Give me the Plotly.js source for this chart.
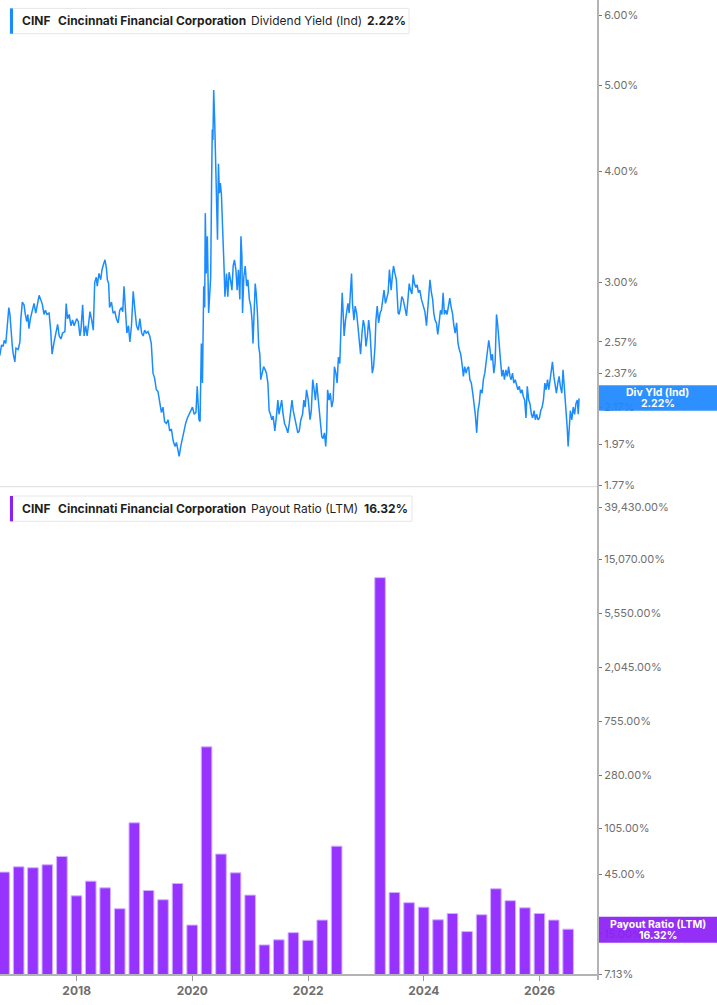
<!DOCTYPE html>
<html>
<head>
<meta charset="utf-8">
<script src="https://cdn.plot.ly/plotly-3.0.1.min.js"></script>
<style>
html,body{margin:0;padding:0;background:#fff;}
#chart{width:717px;height:1005px;}
</style>
</head>
<body>
<div id="chart"></div>
<script>
// ---------------- DATA ----------------
const yieldDates = [
'2016-09-03','2016-09-14','2016-09-24','2016-10-01','2016-10-11','2016-10-19','2016-10-30','2016-11-06','2016-11-12','2016-11-21','2016-11-27','2016-12-07','2016-12-14','2016-12-28',
'2017-01-08','2017-01-14','2017-01-23','2017-02-03','2017-02-11','2017-02-20','2017-02-27','2017-03-06','2017-03-15','2017-03-25','2017-04-07','2017-04-18','2017-04-28','2017-05-09','2017-05-19','2017-05-30','2017-06-09','2017-06-18','2017-06-28','2017-07-11','2017-07-21','2017-07-30','2017-08-10','2017-08-20','2017-09-03','2017-09-13','2017-09-24','2017-10-04','2017-10-19','2017-10-27','2017-11-04','2017-11-15','2017-11-26','2017-12-06','2017-12-16',
'2018-01-01','2018-01-11','2018-01-22','2018-01-28','2018-02-08','2018-02-17','2018-02-27','2018-03-08','2018-03-18','2018-03-26','2018-04-06','2018-04-16','2018-04-25','2018-05-05','2018-05-11','2018-05-22','2018-06-02','2018-06-10','2018-06-21','2018-06-29','2018-07-08','2018-07-14','2018-07-22','2018-07-28','2018-08-09','2018-08-19','2018-08-30','2018-09-09','2018-09-20','2018-09-30','2018-10-11','2018-10-19','2018-10-27','2018-11-06','2018-11-14','2018-11-24','2018-12-03','2018-12-13','2018-12-24',
'2019-01-04','2019-01-14','2019-01-25','2019-02-04','2019-02-15','2019-02-25','2019-03-06','2019-03-16','2019-03-27','2019-04-07','2019-04-17','2019-04-28','2019-05-08','2019-05-19','2019-05-29','2019-06-09','2019-06-20','2019-06-30','2019-07-10','2019-07-21','2019-08-01','2019-08-11','2019-08-22','2019-09-02','2019-09-13','2019-09-23','2019-10-03','2019-10-10','2019-10-20','2019-10-30','2019-11-10','2019-11-20','2019-12-01','2019-12-11','2019-12-22',
'2020-01-02','2020-01-13','2020-01-24','2020-02-01','2020-02-12','2020-02-19','2020-02-27','2020-03-05','2020-03-13','2020-03-19','2020-03-23','2020-03-29','2020-04-05','2020-04-13','2020-04-20','2020-04-26','2020-05-02','2020-05-06','2020-05-10','2020-05-15','2020-05-21','2020-05-27','2020-06-02','2020-06-08','2020-06-14','2020-06-20','2020-06-26','2020-07-03','2020-07-09','2020-07-13','2020-07-19','2020-07-25','2020-08-04','2020-08-12','2020-08-20','2020-08-29','2020-09-07','2020-09-15','2020-09-23','2020-10-02','2020-10-10','2020-10-18','2020-10-27','2020-11-03','2020-11-09','2020-11-13','2020-11-21','2020-11-30','2020-12-09','2020-12-17','2020-12-26',
'2021-01-04','2021-01-12','2021-01-18','2021-01-25','2021-02-01','2021-02-07','2021-02-15','2021-02-23','2021-03-02','2021-03-08','2021-03-16','2021-03-26','2021-04-05','2021-04-13','2021-04-22','2021-04-30','2021-05-08','2021-05-17','2021-05-25','2021-06-05','2021-06-16','2021-06-24','2021-07-01','2021-07-10','2021-07-18','2021-07-27','2021-08-05','2021-08-15','2021-08-26','2021-09-04','2021-09-12','2021-09-21','2021-09-29','2021-10-10','2021-10-20','2021-10-28','2021-11-06','2021-11-16','2021-11-27','2021-12-05','2021-12-13','2021-12-22',
'2022-01-02','2022-01-13','2022-01-21','2022-01-30','2022-02-08','2022-02-16','2022-02-24','2022-03-03','2022-03-11','2022-03-20','2022-03-28','2022-04-05','2022-04-14','2022-04-22','2022-04-28','2022-05-04','2022-05-13','2022-05-21','2022-05-30','2022-06-08','2022-06-16','2022-06-25','2022-07-03','2022-07-11','2022-07-20','2022-07-28','2022-08-04','2022-08-10','2022-08-16','2022-08-25','2022-09-01','2022-09-09','2022-09-17','2022-09-26','2022-10-02','2022-10-08','2022-10-17','2022-10-25','2022-11-03','2022-11-11','2022-11-20','2022-11-28','2022-12-07','2022-12-15','2022-12-23',
'2023-01-01','2023-01-10','2023-01-18','2023-01-27','2023-02-04','2023-02-10','2023-02-18','2023-02-27','2023-03-05','2023-03-13','2023-03-22','2023-03-31','2023-04-08','2023-04-17','2023-04-25','2023-05-04','2023-05-12','2023-05-21','2023-05-29','2023-06-09','2023-06-18','2023-06-24','2023-07-01','2023-07-12','2023-07-23','2023-07-29','2023-08-07','2023-08-15','2023-08-24','2023-09-04','2023-09-14','2023-09-23','2023-10-01','2023-10-09','2023-10-18','2023-10-26','2023-11-03','2023-11-12','2023-11-20','2023-11-28','2023-12-07','2023-12-17','2023-12-28',
'2024-01-08','2024-01-18','2024-01-30','2024-02-09','2024-02-18','2024-02-26','2024-03-04','2024-03-12','2024-03-21','2024-03-29','2024-04-07','2024-04-15','2024-04-24','2024-05-02','2024-05-10','2024-05-19','2024-05-27','2024-06-05','2024-06-13','2024-06-22','2024-06-30','2024-07-09','2024-07-17','2024-07-26','2024-08-04','2024-08-12','2024-08-21','2024-08-29','2024-09-07','2024-09-15','2024-09-24','2024-10-02','2024-10-10','2024-10-18','2024-10-27','2024-11-05','2024-11-13','2024-11-21','2024-11-30','2024-12-08','2024-12-16','2024-12-24',
'2025-01-03','2025-01-11','2025-01-20','2025-01-28','2025-02-06','2025-02-14','2025-02-22','2025-03-01','2025-03-09','2025-03-18','2025-03-26','2025-04-04','2025-04-12','2025-04-21','2025-04-29','2025-05-08','2025-05-16','2025-05-24','2025-06-02','2025-06-11','2025-06-19','2025-06-28','2025-07-05','2025-07-14','2025-07-22','2025-07-31','2025-08-09','2025-08-17','2025-08-26','2025-09-03','2025-09-12','2025-09-20','2025-09-29','2025-10-07','2025-10-15','2025-10-24','2025-11-01','2025-11-10','2025-11-18','2025-11-27','2025-12-05','2025-12-13','2025-12-22','2025-12-31',
'2026-01-08','2026-01-17','2026-01-25','2026-02-03','2026-02-11','2026-02-20','2026-02-28','2026-03-06','2026-03-14','2026-03-23','2026-04-01','2026-04-09','2026-04-17','2026-04-26','2026-05-04','2026-05-12','2026-05-21','2026-05-29','2026-06-07','2026-06-15','2026-06-24','2026-06-30','2026-07-06','2026-07-14','2026-07-23','2026-08-01','2026-08-10','2026-08-18','2026-08-27','2026-09-02','2026-09-07'
];
const yieldValues = [
2.48,2.55,2.54,2.58,2.56,2.67,2.81,2.76,2.65,2.54,2.49,2.44,2.53,2.52,
2.57,2.73,2.85,2.83,2.76,2.71,2.76,2.66,2.73,2.79,2.84,2.77,2.84,2.90,2.87,2.83,2.76,2.79,2.76,2.77,2.65,2.49,2.56,2.61,2.69,2.61,2.59,2.63,2.64,2.84,2.73,2.76,2.68,2.72,2.68,
2.73,2.71,2.61,2.65,2.83,2.61,2.68,2.61,2.70,2.78,2.72,2.65,3.00,3.04,2.97,3.07,3.02,3.10,3.15,3.18,3.11,3.02,2.99,2.81,2.85,2.77,2.78,2.73,2.70,2.79,2.81,2.78,2.97,2.76,2.63,2.68,2.57,2.68,2.93,
2.79,2.68,2.65,2.73,2.63,2.61,2.65,2.63,2.64,2.61,2.56,2.37,2.34,2.27,2.26,2.19,2.14,2.17,2.09,2.08,2.10,2.04,2.05,1.99,1.96,1.98,1.94,1.91,1.96,2.00,2.04,2.08,2.11,2.13,2.15,
2.17,2.13,2.14,2.29,2.10,2.09,2.56,2.31,2.97,2.81,3.59,3.07,3.38,2.77,2.94,3.04,3.91,4.46,4.34,4.94,4.57,4.05,3.91,3.35,4.08,3.78,3.88,3.76,3.50,3.38,3.13,2.89,3.07,2.89,3.08,3.02,2.94,3.13,3.18,3.10,2.94,3.10,2.87,3.38,3.21,2.77,3.04,3.13,2.97,3.02,2.87,
2.82,2.72,2.56,2.77,2.99,2.92,2.77,2.54,2.49,2.33,2.37,2.41,2.39,2.37,2.31,2.15,2.13,2.10,2.12,2.04,2.13,2.21,2.13,2.17,2.21,2.13,2.08,2.06,2.03,2.08,2.15,2.21,2.15,2.10,2.06,2.03,2.04,2.10,2.13,2.21,2.17,2.27,
2.21,2.10,2.15,2.33,2.27,2.21,2.31,2.23,2.15,2.06,2.01,2.00,2.03,1.96,2.04,2.27,2.21,2.25,2.17,2.21,2.41,2.37,2.31,2.47,2.43,2.70,2.92,2.77,2.61,2.72,2.79,2.84,2.77,3.02,3.07,2.84,2.72,2.82,2.77,2.68,2.56,2.49,2.63,2.72,2.68,
2.54,2.61,2.72,2.63,2.47,2.37,2.41,2.54,2.72,2.82,2.70,2.77,2.79,2.87,2.94,2.84,2.89,2.92,3.10,2.94,3.07,3.13,3.08,3.02,2.77,2.76,2.81,2.89,2.87,2.81,2.75,2.87,2.99,2.94,2.91,3.06,2.99,2.96,2.98,2.92,2.94,2.87,2.82,
2.78,2.68,2.89,3.02,2.92,2.87,2.77,2.72,2.70,2.62,2.70,2.79,2.76,2.92,2.76,2.79,2.76,2.81,2.88,2.81,2.77,2.68,2.63,2.70,2.56,2.52,2.49,2.43,2.35,2.41,2.37,2.40,2.41,2.33,2.31,2.25,2.19,2.13,2.03,2.15,2.19,2.27,
2.25,2.33,2.37,2.45,2.54,2.58,2.52,2.45,2.49,2.37,2.43,2.76,2.68,2.52,2.45,2.35,2.39,2.33,2.39,2.35,2.41,2.35,2.33,2.37,2.31,2.33,2.29,2.27,2.29,2.25,2.27,2.23,2.21,2.11,2.29,2.21,2.19,2.13,2.11,2.15,2.10,2.13,2.10,2.11,
2.15,2.17,2.21,2.31,2.27,2.33,2.27,2.31,2.37,2.44,2.35,2.29,2.25,2.31,2.35,2.29,2.25,2.39,2.27,2.21,2.06,1.96,2.08,2.15,2.10,2.17,2.13,2.19,2.21,2.13,2.22
];

const payoutDates = [
'2016-09-30','2016-12-31','2017-03-31','2017-06-30','2017-09-30','2017-12-31','2018-03-31','2018-06-30','2018-09-30','2018-12-31',
'2019-03-31','2019-06-30','2019-09-30','2019-12-31','2020-03-31','2020-06-30','2020-09-30','2020-12-31','2021-03-31','2021-06-30',
'2021-09-30','2021-12-31','2022-03-31','2022-06-30','2022-09-30','2022-12-31','2023-03-31','2023-06-30','2023-09-30','2023-12-31',
'2024-03-31','2024-06-30','2024-09-30','2024-12-31','2025-03-31','2025-06-30','2025-09-30','2025-12-31','2026-03-31','2026-06-30'
];
const payoutValues = [
46.8,51.6,50.7,53.6,62.5,30.2,39.6,35.0,23.8,116.3,
33.3,28.1,37.9,17.6,473,65.3,46.2,30.6,12.2,13.4,
15.3,13.3,19.3,75.6,null,null,10750,32.1,26.6,24.5,
19.4,21.8,15.6,21.3,34.4,27.6,24.2,21.8,19.3,16.32
];

const yieldTickVals = [1.77,1.97,2.17,2.37,2.57,3,4,5,6];
const yieldTickText = ['1.77%','1.97%','2.17%','2.37%','2.57%','3.00%','4.00%','5.00%','6.00%'];
const payoutTickVals = [7.13,15,45,105,280,755,2045,5550,15070,39430];
const payoutTickText = ['7.13%','15.00%','45.00%','105.00%','280.00%','755.00%','2,045.00%','5,550.00%','15,070.00%','39,430.00%'];
const yearTickVals = ['2018-01-01','2020-01-01','2022-01-01','2024-01-01','2026-01-01'];
const yearTickText = ['2018','2020','2022','2024','2026'];

const ticker = 'CINF';
const company = 'Cincinnati Financial Corporation';
const yieldName = 'Dividend Yield (Ind)';
const payoutName = 'Payout Ratio (LTM)';
const yieldLast = '2.22%';
const payoutLast = '16.32%';

// ---------------- LAYOUT HELPERS ----------------
const W = 598, H = 974;           // plot area in px
const px = x => x / W;
const py = y => 1 - y / H;

const BLUE = '#1a8cff';
const PURPLE = '#9633ff';
const PURPLE_DARK = '#8c1ff5';
const TXT = '#6f6f6f';

const traces = [
  {
    type: 'scatter', mode: 'lines', x: yieldDates, y: yieldValues,
    xaxis: 'x', yaxis: 'y2',
    line: {color: BLUE, width: 1.5}, hoverinfo: 'skip'
  },
  {
    type: 'bar', x: payoutDates, y: payoutValues,
    xaxis: 'x', yaxis: 'y',
    width: 67 * 86400000,
    marker: {color: PURPLE, line: {color: 'rgba(210,178,255,1)', width: 1}},
    hoverinfo: 'skip'
  }
];

function legend(yTop, color, name, last, lastX, boxRight) {
  const shapes = [
    {type:'rect', xref:'paper', yref:'paper', x0:px(10), x1:px(boxRight), y0:py(yTop+25.3), y1:py(yTop),
     fillcolor:'#ffffff', line:{color:'#e6e6e6', width:1}, layer:'above'},
    {type:'rect', xref:'paper', yref:'paper', x0:px(10), x1:px(13), y0:py(yTop+25.3), y1:py(yTop),
     fillcolor:color, line:{width:0}, layer:'above'}
  ];
  const yc = py(yTop + 12.6);
  const f = {family:'Inter, Roboto, sans-serif', size:12, color:'#1f1f1f'};
  const ann = [
    {text:'<b>'+ticker+'</b>', x:px(20.5), y:yc},
    {text:'<b>'+company+'</b>', x:px(56.5), y:yc},
    {text:name, x:px(250), y:yc},
    {text:'<b>'+last+'</b>', x:px(lastX), y:yc}
  ].map(a => Object.assign(a, {xref:'paper', yref:'paper', xanchor:'left', yanchor:'middle',
      showarrow:false, borderpad:0, font:f}));
  return {shapes, ann};
}

const lg1 = legend(8.4, BLUE, yieldName, yieldLast, 366, 409);
const lg2 = legend(496, PURPLE_DARK, payoutName, payoutLast, 362.7, 412);

function valueLabel(yTop, yBot, color, line1, line2) {
  const shapes = [{type:'rect', xref:'paper', yref:'paper', x0:px(599), x1:px(717), y0:py(yBot), y1:py(yTop),
      fillcolor:color, opacity:0.93, line:{width:0}, layer:'above'}];
  const f = {family:'Inter, Roboto, sans-serif', size:10.5, color:'#ffffff'};
  const mid = (yTop + yBot) / 2;
  const ann = [
    {text:'<b>'+line1+'</b>', x:px(657.8), y:py(mid - 5.6)},
    {text:'<b>'+line2+'</b>', x:px(657.8), y:py(mid + 5.6)}
  ].map(a => Object.assign(a, {xref:'paper', yref:'paper', xanchor:'center', yanchor:'middle',
      showarrow:false, borderpad:0, font:f}));
  return {shapes, ann};
}
const vl1 = valueLabel(385.2, 410.8, '#1e88ff', 'Div Yld (Ind)', yieldLast);
const vl2 = valueLabel(916.7, 942.7, PURPLE_DARK, payoutName, payoutLast);

const axisTickFont = {family:'Inter, Roboto, sans-serif', size:11, color:TXT};

const layout = {
  width: 717, height: 1005,
  margin: {l:0, r:119, t:0, b:31, pad:0},
  paper_bgcolor: '#ffffff', plot_bgcolor: '#ffffff',
  showlegend: false,
  bargap: 0,
  xaxis: {
    type: 'date', anchor: 'y',
    range: ['2016-09-04 06:00', '2027-01-04 12:00'],
    tickmode: 'array', tickvals: yearTickVals, ticktext: yearTickText,
    ticks: 'outside', ticklen: 5, tickwidth: 1, tickcolor: '#9a9a9a',
    showline: true, linecolor: '#b3b3b3', linewidth: 2,
    showgrid: false, zeroline: false,
    tickfont: {family:'Inter, Roboto, sans-serif', size:12, color:TXT, weight:'bold'},
    fixedrange: true
  },
  yaxis: {
    type: 'log', side: 'right', anchor: 'x',
    domain: [0, py(490)],
    range: [Math.log10(7.13), 4.7343],
    tickmode: 'array', tickvals: payoutTickVals, ticktext: payoutTickText,
    ticks: 'outside', ticklen: 3, tickwidth: 1, tickcolor: '#777',
    showline: false, showgrid: false, zeroline: false,
    tickfont: axisTickFont
  },
  yaxis2: {
    type: 'log', side: 'right', anchor: 'x',
    domain: [py(486.7), 1],
    range: [0.24678, 0.79529],
    tickmode: 'array', tickvals: yieldTickVals, ticktext: yieldTickText,
    ticks: 'outside', ticklen: 3, tickwidth: 1, tickcolor: '#777',
    showline: false, showgrid: false, zeroline: false,
    tickfont: axisTickFont
  },
  shapes: [
    {type:'line', xref:'paper', yref:'paper', x0:px(0), x1:1, y0:py(486.7), y1:py(486.7),
     line:{color:'#dddddd', width:1}},
    {type:'line', xref:'paper', yref:'paper', x0:1, x1:1, y0:py(980), y1:1,
     line:{color:'#b3b3b3', width:2}, layer:'above'}
  ].concat(lg1.shapes, lg2.shapes, vl1.shapes, vl2.shapes),
  annotations: [].concat(lg1.ann, lg2.ann, vl1.ann, vl2.ann)
};

Plotly.newPlot('chart', traces, layout, {displayModeBar:false, staticPlot:true});
</script>
</body>
</html>
